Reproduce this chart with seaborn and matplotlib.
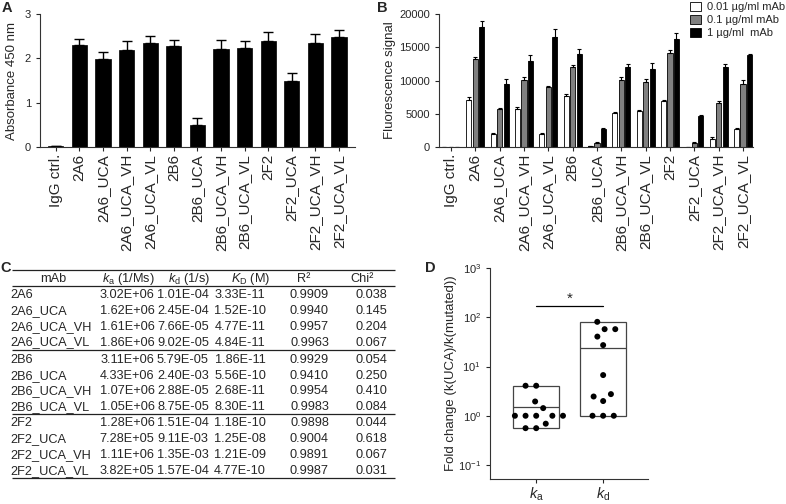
import matplotlib
matplotlib.use("Agg")
import matplotlib.pyplot as plt
import numpy as np
import pandas as pd
import seaborn as sns

# ---- data -------------------------------------------------------------
mabs = ["IgG ctrl.", "2A6", "2A6_UCA", "2A6_UCA_VH", "2A6_UCA_VL",
        "2B6", "2B6_UCA", "2B6_UCA_VH", "2B6_UCA_VL",
        "2F2", "2F2_UCA", "2F2_UCA_VH", "2F2_UCA_VL"]

# A: absorbance at 450 nm (mean, upper error)
absorbance = [0.03, 2.30, 1.98, 2.19, 2.35, 2.28, 0.50, 2.20, 2.23, 2.38, 1.49, 2.35, 2.48]
absorbance_err = [0.0, 0.13, 0.17, 0.21, 0.15, 0.13, 0.15, 0.21, 0.16, 0.21, 0.17, 0.19, 0.15]

# B: fluorescence signal at three mAb concentrations
concentrations = ["0.01 µg/ml mAb", "0.1 µg/ml mAb", "1 µg/ml  mAb"]
signal_001 = [60, 7100, 1900, 5700, 2000, 7600, 100, 5100, 5400, 6900, 50, 1250, 2650]
signal_01 = [40, 13300, 5700, 10100, 9000, 12100, 650, 10100, 9800, 14200, 650, 6600, 9400]
signal_1 = [40, 18100, 9500, 13000, 16500, 14000, 2750, 12100, 11800, 16300, 4600, 12100, 13800]
err_001 = [0, 350, 150, 350, 150, 400, 0, 100, 100, 100, 0, 300, 250]
err_01 = [0, 300, 200, 450, 200, 250, 100, 400, 500, 400, 100, 350, 650]
err_1 = [0, 900, 800, 900, 1200, 700, 150, 350, 900, 900, 250, 400, 250]

# C: kinetic table
table_mabs = mabs[1:]
table_ka = ["3.02E+06", "1.62E+06", "1.61E+06", "1.86E+06", "3.11E+06", "4.33E+06",
            "1.07E+06", "1.05E+06", "1.28E+06", "7.28E+05", "1.11E+06", "3.82E+05"]
table_kd = ["1.01E-04", "2.45E-04", "7.66E-05", "9.02E-05", "5.79E-05", "2.40E-03",
            "2.88E-05", "8.75E-05", "1.51E-04", "9.11E-03", "1.35E-03", "1.57E-04"]
table_KD = ["3.33E-11", "1.52E-10", "4.77E-11", "4.84E-11", "1.86E-11", "5.56E-10",
            "2.68E-11", "8.30E-11", "1.18E-10", "1.25E-08", "1.21E-09", "4.77E-10"]
table_r2 = ["0.9909", "0.9940", "0.9957", "0.9963", "0.9929", "0.9410",
            "0.9954", "0.9983", "0.9898", "0.9004", "0.9891", "0.9987"]
table_chi2 = ["0.038", "0.145", "0.204", "0.067", "0.054", "0.250",
              "0.410", "0.084", "0.044", "0.618", "0.067", "0.031"]

# D: fold change k(UCA)/k(mutated)
fold_ka = [4.07, 4.07, 1.95, 1.43, 1.0, 1.0, 1.0, 1.0, 1.0, 0.69, 0.56, 0.56]
fold_kd = [80.7, 57.3, 57.3, 40.5, 27.2, 6.7, 2.75, 2.46, 1.99, 1.0, 1.0, 1.0]

# ---- style ------------------------------------------------------------
sns.set_style("ticks")
plt.rcParams["font.family"] = ["Liberation Sans", "DejaVu Sans"]
plt.rcParams["mathtext.fontset"] = "custom"
plt.rcParams["mathtext.rm"] = "Liberation Sans"
plt.rcParams["mathtext.it"] = "Liberation Sans:italic"
plt.rcParams["mathtext.bf"] = "Liberation Sans:bold"
plt.rcParams["axes.linewidth"] = 0.8
plt.rcParams["axes.edgecolor"] = "#333333"
plt.rcParams["xtick.major.width"] = 0.8
plt.rcParams["ytick.major.width"] = 0.8
plt.rcParams["xtick.major.size"] = 3
plt.rcParams["ytick.major.size"] = 3

W, H = 786, 504
fig = plt.figure(figsize=(W / 100, H / 100), dpi=100)


def px_axes(left, top, right, bottom):
    return fig.add_axes([left / W, 1 - bottom / H, (right - left) / W, (bottom - top) / H])


# ---- A ----------------------------------------------------------------
ax_a = px_axes(40, 14, 355, 147)
sns.barplot(x=mabs, y=absorbance, color="black", width=0.64, ax=ax_a,
            edgecolor="black", linewidth=0.5)
ax_a.errorbar(np.arange(len(mabs)), absorbance,
              yerr=[np.zeros(len(mabs)), absorbance_err],
              fmt="none", ecolor="black", elinewidth=1, capsize=3.5, capthick=1)
ax_a.set_ylim(0, 3)
ax_a.set_yticks([0, 1, 2, 3])
ax_a.set_xlim(-0.67, 12.68)
ax_a.set_ylabel("Absorbance 450 nm", fontsize=9.5, labelpad=5)
ax_a.tick_params(axis="x", labelrotation=90, labelsize=11, pad=2)
ax_a.tick_params(axis="y", labelsize=8)
sns.despine(ax=ax_a)

# ---- B ----------------------------------------------------------------
df_b = pd.DataFrame({
    "mAb": mabs * 3,
    "conc": [concentrations[0]] * 13 + [concentrations[1]] * 13 + [concentrations[2]] * 13,
    "signal": signal_001 + signal_01 + signal_1,
})
ax_b = px_axes(439, 14, 753, 147)
sns.barplot(data=df_b, x="mAb", y="signal", hue="conc", hue_order=concentrations,
            palette=["white", "#808080", "black"], edgecolor="black", linewidth=0.6,
            width=0.8, gap=0.2, errorbar=None, legend=False, ax=ax_b)
bar_groups = list(ax_b.containers)
for cont, errs in zip(bar_groups, [err_001, err_01, err_1]):
    xs = [b.get_x() + b.get_width() / 2 for b in cont]
    hs = [b.get_height() for b in cont]
    ax_b.errorbar(xs, hs, yerr=[np.zeros(len(xs)), errs], fmt="none",
                  ecolor="black", elinewidth=0.8, capsize=1.5, capthick=0.8)
ax_b.set_ylim(0, 20000)
ax_b.set_yticks([0, 5000, 10000, 15000, 20000])
ax_b.set_xlim(-0.49, 12.41)
ax_b.set_xlabel("")
ax_b.set_ylabel("Fluorescence signal", fontsize=9.5, labelpad=2)
ax_b.tick_params(axis="x", labelrotation=90, labelsize=11, pad=2)
ax_b.tick_params(axis="y", labelsize=8)
sns.despine(ax=ax_b)
ax_b.legend(bar_groups, concentrations, loc="upper left",
            bbox_to_anchor=(688 / W, 1.0), bbox_transform=fig.transFigure,
            frameon=False, fontsize=8, handlelength=1.0, handleheight=0.8,
            handletextpad=0.5, labelspacing=0.25, borderpad=0.2, borderaxespad=0)

# ---- C (table) --------------------------------------------------------
ax_c = fig.add_axes([0, 0, 1, 1], zorder=-1)
ax_c.set_xlim(0, W)
ax_c.set_ylim(H, 0)
ax_c.axis("off")

tfs = 9.2
headers = [("mAb", 53), (r"$k_\mathrm{a}$ (1/Ms)", 128), (r"$k_\mathrm{d}$ (1/s)", 189),
           (r"$K_\mathrm{D}$ (M)", 251), ("R²", 304), ("Chi²", 362)]
for txt, xc in headers:
    ax_c.text(xc, 279, txt, fontsize=tfs, ha="center", va="center")

row_y = [295, 311, 327, 342.5, 360, 376, 391.5, 406.7, 423, 439.5, 455.5, 471]
for i, y in enumerate(row_y):
    ax_c.text(10, y, table_mabs[i], fontsize=tfs, ha="left", va="center")
    ax_c.text(127, y, table_ka[i], fontsize=tfs, ha="center", va="center")
    ax_c.text(183, y, table_kd[i], fontsize=tfs, ha="center", va="center")
    ax_c.text(240, y, table_KD[i], fontsize=tfs, ha="center", va="center")
    ax_c.text(309.5, y, table_r2[i], fontsize=tfs, ha="center", va="center")
    ax_c.text(371.5, y, table_chi2[i], fontsize=tfs, ha="center", va="center")
ax_c.hlines([270, 286, 350, 414, 478], 12, 395, color="#222222", linewidth=0.9)

# ---- D ----------------------------------------------------------------
ax_d = px_axes(490, 268, 648, 479)
df_d = pd.DataFrame({"rate": ["ka"] * len(fold_ka) + ["kd"] * len(fold_kd),
                     "fold": fold_ka + fold_kd})
ax_d.set_yscale("log")
sns.swarmplot(data=df_d, x="rate", y="fold", color="black", size=4.3,
              linewidth=3.0, edgecolor="none", ax=ax_d, zorder=3)
for i, vals in enumerate([fold_ka, fold_kd]):
    lo, hi, mean = min(vals), max(vals), np.mean(vals)
    ax_d.bar(i, hi - lo, bottom=lo, width=0.68, fill=False,
             edgecolor="#444444", linewidth=0.9, zorder=2)
    ax_d.hlines(mean, i - 0.34, i + 0.34, color="#444444", linewidth=0.9, zorder=2)

ax_d.plot([0, 1], [170, 170], color="black", linewidth=0.9)
ax_d.text(0.5, 175, "*", ha="center", va="bottom", fontsize=11)
ax_d.set_ylim(10 ** -1.284, 1000)
ax_d.yaxis.set_minor_locator(matplotlib.ticker.NullLocator())
ax_d.set_xlim(-0.69, 1.67)
ax_d.set_xticks([0, 1])
ax_d.set_xticklabels([r"$k_\mathrm{a}$", r"$k_\mathrm{d}$"], fontsize=10.5)
ax_d.tick_params(axis="x", pad=1.5)
ax_d.set_xlabel("")
ax_d.set_ylabel("Fold change (k(UCA)/k(mutated))", fontsize=9.5, labelpad=1)
ax_d.tick_params(axis="y", labelsize=8)
sns.despine(ax=ax_d)

# ---- panel letters ----------------------------------------------------
for letter, x, y in [("A", 2, 8), ("B", 377, 8), ("C", 0, 268), ("D", 425, 268)]:
    fig.text(x / W, 1 - y / H, letter, fontsize=10.5, fontweight="bold",
             ha="left", va="center")

fig.savefig("out.png", dpi=100)
